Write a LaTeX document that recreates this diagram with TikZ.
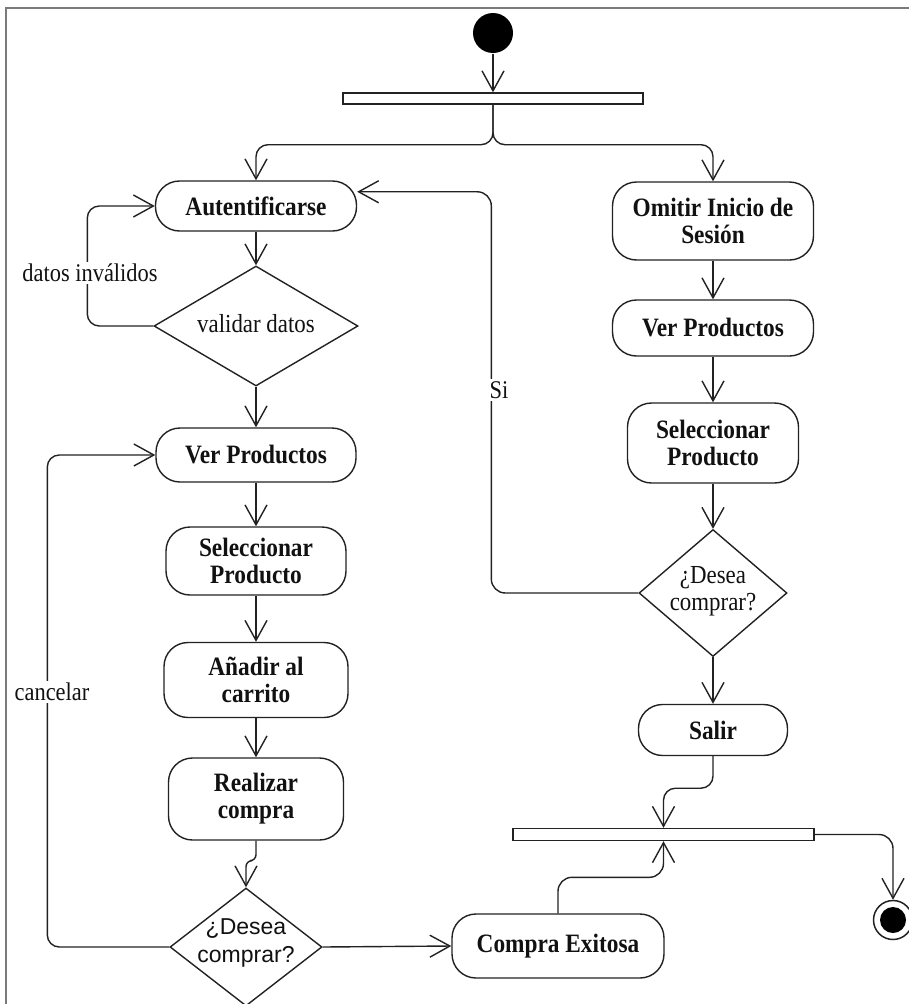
\documentclass[tikz,border=0pt]{standalone}
\usepackage{fontspec}
\setmainfont{Liberation Serif}
\newfontfamily\nodefont[FakeStretch=0.88]{Liberation Serif}
\newfontfamily\sansf{Liberation Sans}
\usetikzlibrary{arrows.meta,shapes.geometric}
\definecolor{ink}{HTML}{222222}
\definecolor{txt}{HTML}{111111}
\definecolor{framecol}{HTML}{7A7A7A}

\begin{document}
\begin{tikzpicture}[x=1pt,y=-1pt,line width=1.4pt,
  arr/.style={draw=ink,-{Straight Barb[length=20pt,width=22pt]}},
  act/.style={draw=ink,fill=white,rounded corners=24pt,align=center,inner sep=0pt,
    text=txt,font=\nodefont\bfseries\fontsize{26.5}{27}\selectfont},
  dec/.style={diamond,draw=ink,fill=white,inner sep=0pt},
  dectext/.style={align=center,inner sep=0pt,text=txt,font=\nodefont\fontsize{26}{27}\selectfont},
  bar/.style={draw=ink,fill=white,inner sep=0pt},
  lbl/.style={fill=white,inner sep=2pt,text=txt,font=\nodefont\fontsize{25.5}{26}\selectfont}]
\useasboundingbox (0,0) rectangle (909,1004);

% outer frame (top and left edges)
\draw[framecol,line width=2pt] (6,1004) -- (6,8) -- (909,8);

% start, fork
\node[circle,fill=black,minimum size=40pt,inner sep=0pt] (start) at (493,33) {};
\node[bar,minimum width=300pt,minimum height=11pt] (fork) at (493,98.5) {};

% left column
\node[act,minimum width=201pt,minimum height=50pt] (auth) at (256,206) {Autentificarse};
\node[dec,minimum width=204pt,minimum height=120pt] (valid) at (256,326) {};
\node[dectext] (validt) at (256,324) {validar datos};
\node[act,minimum width=200pt,minimum height=54pt] (ver1) at (256,455) {Ver Productos};
\node[act,minimum width=180pt,minimum height=68pt] (sel1) at (256,561) {Seleccionar\\Producto};
\node[act,minimum width=184pt,minimum height=75pt] (anad) at (256,680) {Añadir al\\carrito};
\node[act,minimum width=175pt,minimum height=82pt] (real) at (256,799) {Realizar\\compra};
\node[dec,minimum width=152pt,minimum height=118pt] (dec2) at (246,947) {};
\node[dectext,font=\sansf\fontsize{23}{28}\selectfont] (dec2t) at (246,943) {¿Desea\\comprar?};
\node[act,minimum width=212pt,minimum height=64pt] (compra) at (558,946) {Compra Exitosa};

% right column
\node[act,minimum width=201pt,minimum height=78pt] (omit) at (713,221) {Omitir Inicio de\\Sesión};
\node[act,minimum width=201pt,minimum height=56pt] (ver2) at (713,328) {Ver Productos};
\node[act,minimum width=171pt,minimum height=80pt] (sel2) at (713,443) {Seleccionar\\Producto};
\node[dec,minimum width=148pt,minimum height=127pt] (dec1) at (713,593) {};
\node[dectext] (dec1t) at (713,591) {¿Desea\\comprar?};
\node[act,minimum width=149pt,minimum height=51pt] (salir) at (713,730) {Salir};

% join and final node
\node[bar,minimum width=301pt,minimum height=12pt] (join) at (663.5,834.5) {};
\node[circle,draw=ink,fill=white,line width=1.5pt,minimum size=39pt,inner sep=0pt] (end) at (893,920) {};
\node[circle,fill=black,minimum size=26pt,inner sep=0pt] (endcore) at (end) {};

% flows
\draw[arr] (start) -- (fork);
\draw[arr,rounded corners=12pt] (fork.south) -- ++(0,40) -| (auth.north);
\draw[arr,rounded corners=12pt] (fork.south) -- ++(0,40) -| (omit.north);

\draw[arr] (auth) -- (valid);
\draw[arr,rounded corners=12pt] (valid.west) -- ++(-66,0) |- (auth.west);
\node[lbl] (lblinv) at (90,273) {datos inválidos};
\draw[arr] (valid) -- (ver1);
\draw[arr] (ver1) -- (sel1);
\draw[arr] (sel1) -- (anad);
\draw[arr] (anad) -- (real);
\draw[arr,rounded corners=6pt] (real.south) -- ++(0,20) -| (dec2.north);
\draw[arr,rounded corners=12pt] (dec2.west) -- ++(-122,0) |- (ver1.west);
\node[lbl] (lblcan) at (52,692) {cancelar};
\draw[arr] (dec2.east) -- (compra.west);
\draw[arr,rounded corners=14pt] (compra.north) -- ++(0,-36) -| (join.south);

\draw[arr] (omit) -- (ver2);
\draw[arr] (ver2) -- (sel2);
\draw[arr] (sel2) -- (dec1);
\draw[arr] (dec1) -- (salir);
\draw[arr,rounded corners=14pt] (dec1.west) -- ++(-147,0) |- (auth.8);
\node[lbl] (lblsi) at (499,390) {Si};
\draw[arr,rounded corners=12pt] (salir.south) -- ++(0,32) -| (join.north);
\draw[arr,rounded corners=14pt] (join.east) -| (end.north);
\end{tikzpicture}
\end{document}
